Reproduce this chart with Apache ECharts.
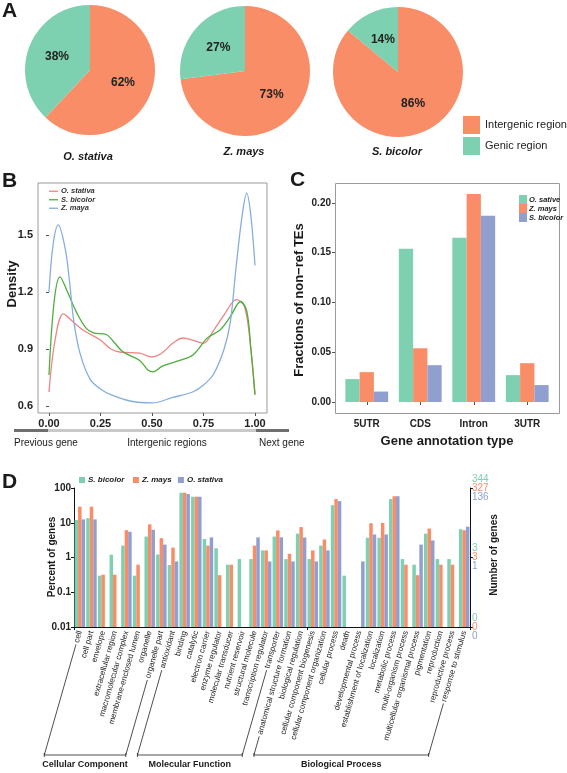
<!DOCTYPE html>
<html>
<head>
<meta charset="utf-8">
<script src="https://cdn.jsdelivr.net/npm/echarts@6/dist/echarts.min.js"></script>
<style>
html,body{margin:0;padding:0;background:#fff;}
#main{width:567px;height:773px;}
</style>
</head>
<body>
<div id="main"></div>
<script>
// ---------- Panel A data ----------
const pieSpecies = ['O. stativa', 'Z. mays', 'S. bicolor'];
const pieIntergenic = [62, 73, 86];
const pieGenic = [38, 27, 14];

// ---------- Panel B data (density along intergenic region) ----------
const densO_x = [0, 0.03, 0.07, 0.12, 0.165, 0.25, 0.3, 0.35, 0.44, 0.5, 0.55, 0.6, 0.65, 0.7, 0.75, 0.8, 0.85, 0.91, 0.95, 0.98, 1.0];
const densO_y = [0.674, 0.95, 1.085, 1.04, 1.0, 0.947, 0.9, 0.883, 0.878, 0.858, 0.88, 0.93, 0.958, 0.945, 0.93, 1.0, 1.08, 1.16, 1.12, 0.9, 0.66];
const densS_x = [0, 0.025, 0.053, 0.09, 0.135, 0.18, 0.215, 0.28, 0.32, 0.36, 0.44, 0.48, 0.505, 0.55, 0.635, 0.7, 0.77, 0.83, 0.88, 0.93, 0.96, 0.98, 1.0];
const densS_y = [0.763, 1.15, 1.28, 1.2, 1.09, 1.01, 0.985, 0.975, 0.93, 0.884, 0.84, 0.79, 0.78, 0.81, 0.84, 0.87, 0.96, 1.0, 1.07, 1.15, 1.1, 0.9, 0.66];
const densZ_x = [0, 0.02, 0.045, 0.08, 0.1, 0.12, 0.15, 0.2, 0.25, 0.3, 0.4, 0.5, 0.6, 0.7, 0.75, 0.8, 0.85, 0.88, 0.91, 0.94, 0.96, 0.98, 1.0];
const densZ_y = [1.2, 1.45, 1.553, 1.42, 1.25, 1.05, 0.88, 0.74, 0.69, 0.66, 0.625, 0.616, 0.645, 0.675, 0.71, 0.77, 0.9, 1.04, 1.35, 1.62, 1.72, 1.6, 1.34];
const densXTicks = [0, 0.25, 0.5, 0.75, 1];
const densYTicks = [0.6, 0.9, 1.2, 1.5];

// ---------- Panel C data ----------
const annoTypes = ['5UTR', 'CDS', 'Intron', '3UTR'];
const fracOsative = [0.023, 0.154, 0.165, 0.027];
const fracZmays = [0.030, 0.054, 0.209, 0.039];
const fracSbicolor = [0.0105, 0.037, 0.187, 0.017];
const fracTicks = [0, 0.05, 0.10, 0.15, 0.20];

// ---------- Panel D data (GO, percent of genes) ----------
const goTerms = ['cell', 'cell part', 'envelope', 'extracellular region', 'macromolecular complex', 'membrane-enclosed lumen', 'organelle', 'organelle part',
  'antioxidant', 'binding', 'catalytic', 'electron carrier', 'enzyme regulator', 'molecular transducer', 'nutrient reservoir', 'structural molecule', 'transcription regulator', 'transporter',
  'anatomical structure formation', 'biological regulation', 'cellular component biogenesis', 'cellular component organization', 'cellular process', 'death', 'developmental process', 'establishment of localization', 'localization', 'metabolic process', 'multi-organism process', 'multicellular organismal process', 'pigmentation', 'reproduction', 'reproductive process', 'response to stimulus'];
const goSbicolor = [12, 13.5, 0.3, 1.2, 2.2, 0.3, 4.0, 1.22,
  0.61, 73, 56, 3.4, 1.84, 0.62, 0.9, 0.9, 1.6, 4.0,
  0.9, 4.85, 0.9, 2.2, 32, 0.3, null, 3.7, 3.7, 48, 0.9, 0.62, 4.85, 0.9, 0.9, 6.5];
const goZmays = [29, 29, 0.32, 0.32, 6.1, 0.62, 9.0, 3.6,
  1.93, 73, 56, 2.2, 0.31, 0.62, null, 2.2, 1.6, 6.0,
  1.28, 7.5, 1.6, 3.3, 48, null, null, 9.7, 9.9, 58, 0.62, 0.31, 6.8, 0.62, 0.62, 6.1];
const goOstativa = [12.5, 12.5, null, null, 5.5, null, 6.3, 2.35,
  0.77, 67, 56, 3.8, null, null, null, 3.8, 0.77, 3.8,
  0.77, 3.75, 0.77, 1.6, 42, null, 0.77, 4.6, 4.6, 58, null, 2.35, 3.1, null, null, 7.7];
const goLeftTicks = ['0.01', '0.1', '1', '10', '100'];
const goRightLevels = [4, 2, 0];
const goRightS = ['344', '3', '0'];
const goRightZ = ['327', '3', '0'];
const goRightO = ['136', '1', '0'];
const goGroups = [
  { name: 'Cellular Component', from: 0, to: 7 },
  { name: 'Molecular Function', from: 8, to: 17 },
  { name: 'Biological Process', from: 18, to: 33 }
];

// ---------- styling ----------
const FF = '"Liberation Sans", Arial, sans-serif';
const cOrange = '#F98D68', cGreen = '#7DD0B0', cBlue = '#909FD0';
const lineRed = '#EE8585', lineGreen = '#4DAE3C', lineBlue = '#86AEDD';

const chart = echarts.init(document.getElementById('main'), null, { renderer: 'canvas' });

const pieCenters = [[90, 70], [245, 71], [398, 72]];
const pieSeries = pieSpecies.map((sp, i) => ({
  type: 'pie', name: 'pie-' + i, center: pieCenters[i], radius: 65, startAngle: 90, clockwise: true,
  silent: true, emphasis: { disabled: true },
  label: { position: 'inside', formatter: '{c}%', fontSize: 12, fontWeight: 'bold', color: '#222', fontFamily: FF },
  labelLine: { show: false },
  data: [
    { name: 'Intergenic region', value: pieIntergenic[i], itemStyle: { color: cOrange } },
    { name: 'Genic region', value: pieGenic[i], itemStyle: { color: cGreen } }
  ]
}));

const toPairs = (xs, ys) => xs.map((x, i) => [x, ys[i]]);
const lineSer = (name, xs, ys, col) => ({
  type: 'line', name: name, xAxisIndex: 0, yAxisIndex: 0, data: toPairs(xs, ys),
  smooth: 0.35, symbol: 'none', showSymbol: false, silent: true,
  lineStyle: { color: col, width: 1.3 }, itemStyle: { color: col }
});

const logT = arr => arr.map(v => (v == null ? '-' : Math.log10(v) + 2));
const goBar = (name, arr, col) => ({
  type: 'bar', name: name, xAxisIndex: 2, yAxisIndex: 2, data: logT(arr),
  barGap: '0%', barCategoryGap: '10%', itemStyle: { color: col }, silent: true
});
const fracBar = (name, arr, col) => ({
  type: 'bar', name: name, xAxisIndex: 1, yAxisIndex: 1, data: arr,
  barGap: '0%', barCategoryGap: '20%', itemStyle: { color: col }, silent: true
});

const lbl = (text, x, y, font, extra) => ({
  type: 'text', x: x, y: y, silent: true,
  style: Object.assign({ text: text, font: font, fill: '#1a1a1a', align: 'center', verticalAlign: 'middle' }, extra || {})
});
const vlbl = (text, x, y, font) => ({
  type: 'text', x: x, y: y, rotation: Math.PI / 2, silent: true,
  style: { text: text, font: font, fill: '#1a1a1a', align: 'center', verticalAlign: 'middle' }
});

const baseGraphics = [
  lbl('A', 2, 11, 'bold 21px ' + FF, { align: 'left' }),
  lbl('B', 2, 181, 'bold 21px ' + FF, { align: 'left' }),
  lbl('C', 290, 180, 'bold 21px ' + FF, { align: 'left' }),
  lbl('D', 2, 482, 'bold 21px ' + FF, { align: 'left' }),
  lbl(pieSpecies[0], 88, 157, 'italic bold 11px ' + FF),
  lbl(pieSpecies[1], 244, 152, 'italic bold 11px ' + FF),
  lbl(pieSpecies[2], 397, 152, 'italic bold 11px ' + FF),
  // gene-position bar under panel B
  { type: 'rect', shape: { x: 14, y: 429, width: 275, height: 3 }, style: { fill: '#C9C9C9' }, silent: true },
  { type: 'rect', shape: { x: 14, y: 429, width: 34, height: 3 }, style: { fill: '#6F6F6F' }, silent: true },
  { type: 'rect', shape: { x: 256, y: 429, width: 33, height: 3 }, style: { fill: '#6F6F6F' }, silent: true },
  lbl('Previous gene', 14, 443, '10px ' + FF, { align: 'left' }),
  lbl('Intergenic regions', 167, 443, '10px ' + FF),
  lbl('Next gene', 259, 443, '10px ' + FF, { align: 'left' }),
  // panel C frame
  { type: 'rect', shape: { x: 335.5, y: 183.5, width: 224, height: 230 }, style: { fill: 'none', stroke: '#9a9a9a', lineWidth: 1 }, silent: true },
  vlbl('Density', 12, 284, 'bold 13px ' + FF),
  vlbl('Fractions of non\u2212ref TEs', 299, 300, 'bold 13px ' + FF),
  lbl('Gene annotation type', 447, 441, 'bold 13px ' + FF),
  vlbl('Percent of genes', 52, 557, 'bold 10px ' + FF),
  vlbl('Number of genes', 494, 555, 'bold 10px ' + FF)
];

const option = {
  animation: false,
  textStyle: { fontFamily: FF },
  legend: [
    { data: ['Intergenic region', 'Genic region'], orient: 'vertical', left: 463, top: 116, padding: 0, itemWidth: 17, itemHeight: 18, itemGap: 3, icon: 'rect', selectedMode: false, textStyle: { fontSize: 11, color: '#222', fontFamily: FF } },
    { data: ['O. stativa', 'S. bicolor', 'Z. maya'], orient: 'vertical', left: 49, top: 187, padding: 0, itemWidth: 9, itemHeight: 1.3, itemGap: 0, icon: 'rect', selectedMode: false, textStyle: { fontSize: 7.5, lineHeight: 8.5, fontStyle: 'italic', fontWeight: 'bold', color: '#333', fontFamily: FF, padding: [0, 0, 0, -2] } },
    { data: ['O. sative', 'Z. mays', 'S. bicolor '], orient: 'vertical', left: 519, top: 195, padding: 0, itemWidth: 8, itemHeight: 9, itemGap: 0, icon: 'rect', selectedMode: false, textStyle: { fontSize: 7.5, fontStyle: 'italic', fontWeight: 'bold', color: '#222', fontFamily: FF, padding: [0, 0, 0, -3] } },
    { data: ['S. bicolor  ', 'Z. mays ', 'O. stativa '], orient: 'horizontal', left: 79, top: 476, padding: 0, itemWidth: 6, itemHeight: 6, itemGap: 4, icon: 'rect', selectedMode: false, textStyle: { fontSize: 8, fontStyle: 'italic', fontWeight: 'bold', color: '#222', fontFamily: FF, padding: [0, 0, 0, -2] } }
  ],
  grid: [
    { left: 38, top: 183, width: 229, height: 230, show: true, borderColor: '#9a9a9a', borderWidth: 1, backgroundColor: 'transparent' },
    { left: 340, top: 183, width: 214, height: 230 },
    { left: 74, top: 488, width: 396, height: 139 }
  ],
  xAxis: [
    { gridIndex: 0, type: 'value', min: -0.0534, max: 1.0583, splitLine: { show: false }, axisLine: { show: false },
      axisTick: { show: true, length: 3, lineStyle: { color: '#555' }, customValues: densXTicks },
      axisLabel: { customValues: densXTicks, formatter: v => v.toFixed(2), fontWeight: 'bold', fontSize: 11, color: '#222', margin: 5 } },
    { gridIndex: 1, type: 'category', data: annoTypes, axisLine: { show: false },
      axisTick: { show: true, alignWithLabel: true, length: 3, lineStyle: { color: '#555' } },
      axisLabel: { fontWeight: 'bold', fontSize: 10, color: '#222', margin: 6 } },
    { gridIndex: 2, type: 'category', data: goTerms, position: 'bottom', axisLine: { show: false }, axisTick: { show: false },
      axisLabel: { interval: 0, rotate: 74, fontSize: 8, color: '#222', margin: 4 } },
    { gridIndex: 2, type: 'category', data: goTerms, position: 'top', axisLine: { show: true, lineStyle: { color: '#111', width: 1 } },
      axisTick: { show: true, inside: true, length: 3, lineStyle: { color: '#111' } }, axisLabel: { show: false } }
  ],
  yAxis: [
    { gridIndex: 0, type: 'value', min: 0.5632, max: 1.7737, splitLine: { show: false }, axisLine: { show: false },
      axisTick: { show: true, length: 3, lineStyle: { color: '#555' }, customValues: densYTicks },
      axisLabel: { customValues: densYTicks, formatter: v => v.toFixed(1), fontWeight: 'bold', fontSize: 11, color: '#222', margin: 5 } },
    { gridIndex: 1, type: 'value', min: -0.01105, max: 0.22, offset: 5, splitLine: { show: false }, axisLine: { show: false },
      axisTick: { show: true, length: 3, lineStyle: { color: '#555' }, customValues: fracTicks },
      axisLabel: { customValues: fracTicks, formatter: v => v.toFixed(2), fontWeight: 'bold', fontSize: 10, color: '#222', margin: 4 } },
    { gridIndex: 2, type: 'value', min: 0, max: 4, interval: 1, position: 'left', splitLine: { show: false },
      axisLine: { show: true, lineStyle: { color: '#111' } }, axisTick: { show: true, length: 3, lineStyle: { color: '#111' } },
      axisLabel: { formatter: v => goLeftTicks[Math.round(v)], fontWeight: 'bold', fontSize: 10, color: '#222', margin: 3 } },
    { gridIndex: 2, type: 'value', min: 0, max: 4, interval: 1, position: 'right', splitLine: { show: false },
      axisLine: { show: true, lineStyle: { color: '#111' } }, axisTick: { show: true, length: 3, lineStyle: { color: '#111' }, customValues: goRightLevels },
      axisLabel: {
        margin: 2,
        formatter: function (v) {
          const k = goRightLevels.indexOf(Math.round(v));
          if (k < 0) return '';
          return '{g|' + goRightS[k] + '}\n{o|' + goRightZ[k] + '}\n{b|' + goRightO[k] + '}';
        },
        rich: {
          g: { color: cGreen, fontSize: 10, lineHeight: 9, fontFamily: FF },
          o: { color: cOrange, fontSize: 10, lineHeight: 9, fontFamily: FF },
          b: { color: cBlue, fontSize: 10, lineHeight: 9, fontFamily: FF }
        }
      } }
  ],
  series: [].concat(pieSeries, [
    lineSer('O. stativa', densO_x, densO_y, lineRed),
    lineSer('S. bicolor', densS_x, densS_y, lineGreen),
    lineSer('Z. maya', densZ_x, densZ_y, lineBlue),
    fracBar('O. sative', fracOsative, cGreen),
    fracBar('Z. mays', fracZmays, cOrange),
    fracBar('S. bicolor ', fracSbicolor, cBlue),
    goBar('S. bicolor  ', goSbicolor, cGreen),
    goBar('Z. mays ', goZmays, cOrange),
    goBar('O. stativa ', goOstativa, cBlue)
  ]),
  graphic: baseGraphics
};

chart.setOption(option);

// bracket lines following the rotated GO labels down to the group brackets
const cv = document.createElement('canvas').getContext('2d');
cv.font = '8px ' + FF;
const th = 74 * Math.PI / 180, cx = Math.cos(th), sy = Math.sin(th);
const bracketY = 755;
const axisBottom = chart.convertToPixel({ yAxisIndex: 2 }, 0);
function labelLine(idx) {
  const term = goTerms[idx];
  const w = cv.measureText(term).width;
  const x0 = chart.convertToPixel({ xAxisIndex: 2 }, term);
  const y0 = axisBottom + 4;
  const xs = x0 - (w + 2) * cx, ys = y0 + (w + 2) * sy;
  const t = Math.max(0, (bracketY - ys) / sy);
  return { x1: xs, y1: ys, x2: xs - t * cx, y2: bracketY };
}
const extra = [];
goGroups.forEach(g => {
  const a = labelLine(g.from), b = labelLine(g.to);
  [a, b].forEach(s => {
    if (s.y1 < bracketY) extra.push({ type: 'line', shape: s, style: { stroke: '#222', lineWidth: 0.8 }, silent: true });
    extra.push({ type: 'line', shape: { x1: s.x2, y1: bracketY - 2, x2: s.x2, y2: bracketY + 2 }, style: { stroke: '#222', lineWidth: 0.8 }, silent: true });
  });
  extra.push({ type: 'line', shape: { x1: a.x2, y1: bracketY, x2: b.x2, y2: bracketY }, style: { stroke: '#222', lineWidth: 0.8 }, silent: true });
  extra.push(lbl(g.name, (a.x2 + b.x2) / 2, 765, 'bold 9px ' + FF));
});
chart.setOption({ graphic: baseGraphics.concat(extra) });
</script>
</body>
</html>
